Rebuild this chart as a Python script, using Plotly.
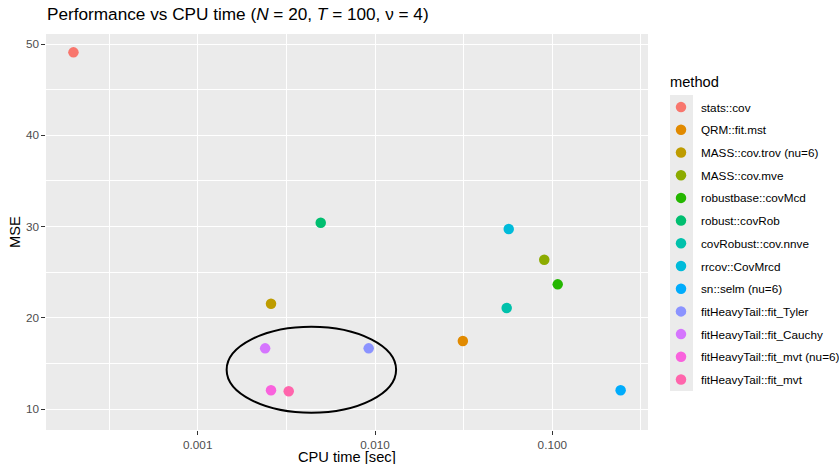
import plotly.graph_objects as go

# ---- data ----
methods = ["stats::cov", "QRM::fit.mst", "MASS::cov.trov (nu=6)", "MASS::cov.mve",
           "robustbase::covMcd", "robust::covRob", "covRobust::cov.nnve", "rrcov::CovMrcd",
           "sn::selm (nu=6)", "fitHeavyTail::fit_Tyler", "fitHeavyTail::fit_Cauchy",
           "fitHeavyTail::fit_mvt (nu=6)", "fitHeavyTail::fit_mvt"]
cpu_time = [0.000199, 0.0313, 0.00259, 0.0901, 0.1073, 0.00494, 0.0553, 0.0568,
            0.243, 0.00921, 0.00240, 0.00259, 0.00326]
mse = [49.09, 17.45, 21.54, 26.36, 23.66, 30.42, 21.07, 29.73,
       12.05, 16.65, 16.65, 12.05, 11.94]
colors = ["#F8766D", "#E18A00", "#BE9C00", "#8CAB00", "#24B700", "#00BE70", "#00C1AB",
          "#00BBDA", "#00ACFC", "#8B93FF", "#D575FE", "#F962DD", "#FF65AC"]

x_tickvals = [0.001, 0.01, 0.1]
x_ticktext = ["0.001", "0.010", "0.100"]
x_minor = [10 ** -3.5, 10 ** -2.5, 10 ** -1.5, 10 ** -0.5]
y_tickvals = [10, 20, 30, 40, 50]
y_minor = [15, 25, 35, 45]

# ellipse highlighting fitHeavyTail methods (log10 centre / half-width on x, data on y)
ell_logx_center, ell_logx_half = -2.359, 0.478
ell_y_center, ell_y_half = 14.31, 4.71

FONT = "Liberation Sans"

fig = go.Figure()
for i, m in enumerate(methods):
    fig.add_trace(go.Scatter(
        x=[cpu_time[i]], y=[mse[i]], mode="markers", name=m, legendgroup=m,
        marker=dict(size=10.5, color=colors[i], line=dict(width=0)),
    ))

fig.add_shape(type="circle", xref="x", yref="y",
              x0=10 ** (ell_logx_center - ell_logx_half), x1=10 ** (ell_logx_center + ell_logx_half),
              y0=ell_y_center - ell_y_half, y1=ell_y_center + ell_y_half,
              line=dict(color="black", width=2))

# grey legend key background
fig.add_shape(type="rect", xref="paper", yref="paper", x0=1.0365, x1=1.0748,
              y0=0.0985, y1=0.846, fillcolor="#EBEBEB", line=dict(width=0), layer="below")

fig.add_annotation(text="method", xref="paper", yref="paper", x=1.033, y=0.88,
                   xanchor="left", yanchor="middle", showarrow=False,
                   font=dict(family=FONT, size=14.67, color="black"))

# x-axis title
fig.add_annotation(text="CPU time [sec]", xref="paper", yref="paper", x=0.5, y=0,
                   xanchor="center", yanchor="middle", yshift=-26.5, showarrow=False,
                   font=dict(family=FONT, size=14.67, color="black"))

fig.update_layout(
    width=839, height=464,
    margin=dict(l=46, r=191, t=34, b=34, autoexpand=False),
    paper_bgcolor="white", plot_bgcolor="#EBEBEB",
    font=dict(family=FONT),
    title=dict(text="Performance vs CPU time (<i>N</i> = 20, <i>T</i> = 100, \u03bd = 4)",
               x=47 / 839, xref="container", xanchor="left",
               y=1 - 14 / 464, yref="container", yanchor="middle",
               font=dict(family=FONT, size=17.2, color="black")),
    showlegend=True,
    legend=dict(x=1.0216, xanchor="left", y=0.852, yanchor="top",
                bgcolor="rgba(0,0,0,0)", traceorder="grouped", tracegroupgap=3.7,
                font=dict(family=FONT, size=11.73, color="black")),
    xaxis=dict(type="log", range=[-3.856, -0.460], automargin=False,
               tickmode="array", tickvals=x_tickvals, ticktext=x_ticktext,
               showgrid=True, gridcolor="white", gridwidth=1.1,
               minor=dict(tickmode="array", tickvals=x_minor, showgrid=True,
                          gridcolor="white", gridwidth=0.55, ticks=""),
               ticks="outside", ticklen=3.7, tickwidth=1.07, tickcolor="#333333",
               tickfont=dict(family=FONT, size=11.73, color="#4D4D4D"),
               zeroline=False, showline=False),
    yaxis=dict(range=[7.7, 51.1], automargin=False,
               tickmode="array", tickvals=y_tickvals,
               showgrid=True, gridcolor="white", gridwidth=1.1,
               minor=dict(tickmode="array", tickvals=y_minor, showgrid=True,
                          gridcolor="white", gridwidth=0.55, ticks=""),
               ticks="outside", ticklen=3.7, tickwidth=1.07, tickcolor="#333333",
               tickfont=dict(family=FONT, size=11.73, color="#4D4D4D"),
               zeroline=False, showline=False,
               title=dict(text="MSE", standoff=1,
                          font=dict(family=FONT, size=14.67, color="black"))),
)

fig.write_html("out.html", config={"displayModeBar": False},
               post_script="document.body.style.margin='0';")
